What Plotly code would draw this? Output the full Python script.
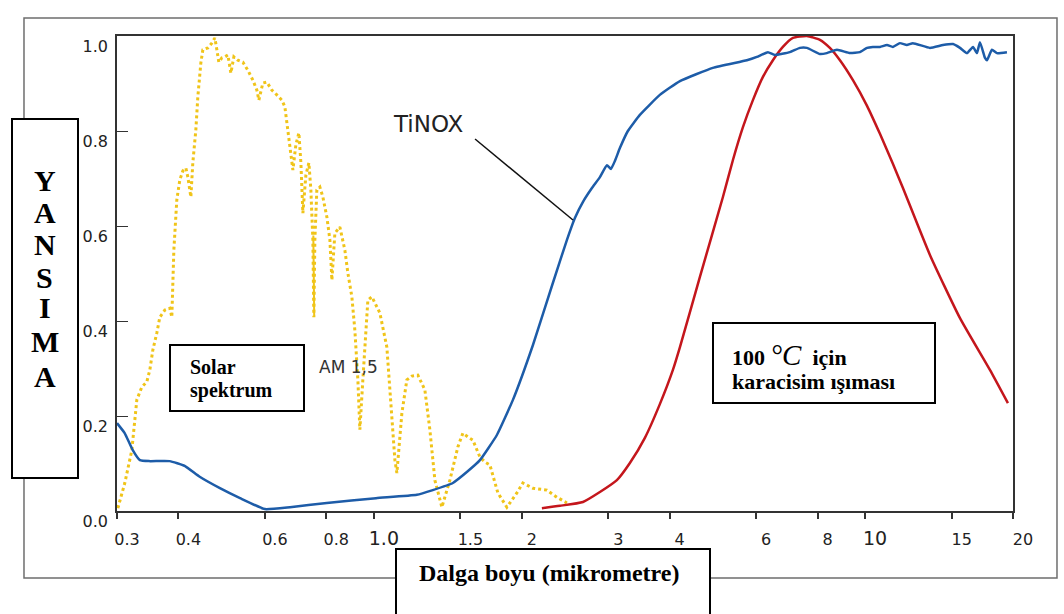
import math
import plotly.graph_objects as go

# ---------------- data ----------------
tick_vals = [0.3, 0.4, 0.6, 0.8, 1.0, 1.5, 2, 3, 4, 6, 8, 10, 15, 20]
tick_text = ["0.3", "0.4", "0.6", "0.8", '<span style="font-size:19px">1.0</span>', "1.5", "2",
             "3", "4", "6", "8", '<span style="font-size:19px">10</span>', "15", "20"]
y_tick_vals = [0.0, 0.2, 0.4, 0.6, 0.8, 1.0]
y_tick_text = ["0.0", "0.2", "0.4", "0.6", "0.8", "1.0"]

# TiNOX reflectance
tinox_x = [0.300, 0.311, 0.323, 0.334, 0.350, 0.384, 0.412, 0.442, 0.486, 0.534, 0.600, 0.675,
           0.802, 1.01, 1.223, 1.318, 1.448, 1.546, 1.644, 1.780, 1.919, 2.107, 2.314, 2.472,
           2.566, 2.665, 2.779, 2.885, 2.981, 3.038, 3.095, 3.168, 3.289, 3.479, 3.821, 4.198,
           4.898, 5.745, 6.021, 6.340, 6.553, 7.029, 7.366, 7.611, 8.091, 8.360, 8.761, 9.313,
           9.759, 10.09, 10.37, 10.72, 11.08, 11.39, 11.77, 12.16, 12.51, 13.55, 14.40, 15.10,
           15.60, 16.12, 16.58, 16.89, 17.13, 17.54, 17.70, 18.12, 18.55, 19.44]
tinox_y = [0.185, 0.164, 0.128, 0.107, 0.105, 0.105, 0.095, 0.072, 0.048, 0.027, 0.004, 0.008,
           0.017, 0.027, 0.034, 0.044, 0.059, 0.082, 0.107, 0.160, 0.234, 0.349, 0.480, 0.571,
           0.617, 0.651, 0.680, 0.703, 0.728, 0.720, 0.737, 0.764, 0.800, 0.834, 0.876, 0.905,
           0.933, 0.949, 0.956, 0.966, 0.960, 0.966, 0.975, 0.975, 0.962, 0.964, 0.971, 0.964,
           0.966, 0.975, 0.977, 0.977, 0.981, 0.977, 0.985, 0.981, 0.985, 0.975, 0.981, 0.983,
           0.975, 0.964, 0.977, 0.964, 0.987, 0.954, 0.949, 0.971, 0.964, 0.966]

# Black body radiation at 100 °C (normalised)
bb_x = [2.198, 2.392, 2.665, 2.885, 3.124, 3.320, 3.562, 3.821, 4.062, 4.198, 4.610, 5.135,
        5.382, 5.640, 5.910, 6.194, 6.491, 6.801, 7.129, 7.611, 8.091, 8.478, 8.887, 9.445,
        10.09, 10.72, 11.39, 11.94, 13.55, 15.60, 17.95, 19.53]
bb_y = [0.006, 0.011, 0.019, 0.040, 0.065, 0.101, 0.154, 0.225, 0.297, 0.345, 0.493, 0.661,
        0.739, 0.808, 0.865, 0.914, 0.949, 0.977, 0.996, 1.000, 0.992, 0.975, 0.949, 0.907,
        0.853, 0.794, 0.731, 0.680, 0.539, 0.406, 0.297, 0.227]

# Solar spectrum AM 1.5 (normalised)
solar_x = [0.3012, 0.3112, 0.3216, 0.3292, 0.3370, 0.3450, 0.3499, 0.3549, 0.3616, 0.3667,
           0.3754, 0.3843, 0.3879, 0.3916, 0.3971, 0.4027, 0.4085, 0.4143, 0.4182, 0.4241,
           0.4280, 0.4341, 0.4382, 0.4444, 0.4486, 0.4593, 0.4679, 0.4746, 0.4791, 0.4835,
           0.4904, 0.4974, 0.5045, 0.5116, 0.5188, 0.5286, 0.5412, 0.5540, 0.5672, 0.5779,
           0.5833, 0.5943, 0.6055, 0.6199, 0.6346, 0.6497, 0.6589, 0.6683, 0.6745, 0.6841,
           0.6938, 0.7037, 0.7103, 0.7170, 0.7271, 0.7374, 0.7443, 0.7513, 0.7548, 0.7584,
           0.7655, 0.7764, 0.7874, 0.8023, 0.8137, 0.8214, 0.8330, 0.8527, 0.8730, 0.8853,
           0.9020, 0.9147, 0.9278, 0.9365, 0.9497, 0.9587, 0.9723, 0.9906, 1.0285, 1.0628,
           1.0880, 1.1036, 1.1139, 1.1296, 1.1403, 1.1672, 1.1950, 1.2291, 1.2700, 1.3002,
           1.3311, 1.3754, 1.4281, 1.4826, 1.5177, 1.5538, 1.5906, 1.6435, 1.6827, 1.7225,
           1.7883, 1.8653, 1.9096, 1.9549, 2.0107, 2.1074, 2.2502, 2.3584, 2.4717]
solar_y = [0.006, 0.059, 0.128, 0.234, 0.261, 0.272, 0.297, 0.339, 0.375, 0.408,
           0.423, 0.427, 0.408, 0.549, 0.655, 0.697, 0.716, 0.722, 0.703, 0.661,
           0.733, 0.802, 0.872, 0.943, 0.971, 0.975, 0.985, 0.996, 0.971, 0.945,
           0.954, 0.956, 0.960, 0.922, 0.956, 0.949, 0.945, 0.928, 0.907, 0.886,
           0.865, 0.901, 0.903, 0.886, 0.876, 0.865, 0.851, 0.802, 0.766, 0.718,
           0.771, 0.796, 0.733, 0.627, 0.707, 0.733, 0.676, 0.571, 0.408, 0.571,
           0.676, 0.682, 0.661, 0.619, 0.571, 0.486, 0.585, 0.598, 0.549, 0.501,
           0.451, 0.381, 0.276, 0.171, 0.276, 0.345, 0.444, 0.451, 0.417, 0.345,
           0.206, 0.107, 0.080, 0.149, 0.206, 0.276, 0.284, 0.286, 0.255, 0.171,
           0.065, 0.008, 0.065, 0.135, 0.164, 0.156, 0.149, 0.114, 0.103, 0.097,
           0.038, 0.008, 0.023, 0.038, 0.059, 0.048, 0.044, 0.029, 0.017]
# narrow O2 absorption line drawn solid in the original
o2_x = [0.7530, 0.7560]
o2_y = [0.580, 0.410]

# ---------------- figure ----------------
BLUE = "#1d5ca8"
RED = "#c4161c"
YELLOW = "#f0c419"
TICKFONT = dict(family="DejaVu Sans", size=16, color="#222222")
SERIF = "Liberation Serif"

fig = go.Figure()
fig.add_trace(go.Scatter(x=solar_x, y=solar_y, mode="lines",
                         line=dict(color=YELLOW, width=3, dash="3px,3px"), hoverinfo="skip"))
fig.add_trace(go.Scatter(x=o2_x, y=o2_y, mode="lines",
                         line=dict(color=YELLOW, width=2), hoverinfo="skip"))
fig.add_trace(go.Scatter(x=bb_x, y=bb_y, mode="lines",
                         line=dict(color=RED, width=2.5, shape="spline", smoothing=0.5), hoverinfo="skip"))
fig.add_trace(go.Scatter(x=tinox_x, y=tinox_y, mode="lines",
                         line=dict(color=BLUE, width=2.5, shape="spline", smoothing=0.4), hoverinfo="skip"))

xr = [math.log10(0.3), math.log10(20)]
fig.update_layout(
    width=1064, height=614,
    margin=dict(l=117, r=51, t=36, b=103),
    paper_bgcolor="white", plot_bgcolor="white",
    showlegend=False,
    xaxis=dict(type="log", range=xr, tickvals=tick_vals, ticktext=tick_text,
               ticks="outside", ticklen=6, tickwidth=1.5, tickcolor="#333333",
               showline=True, mirror=True, linecolor="#333333", linewidth=1.5,
               showgrid=False, zeroline=False, tickfont=TICKFONT,
               ticklabelshift=10, ticklabelstandoff=7),
    xaxis2=dict(type="log", range=xr, overlaying="x", anchor="y", side="bottom",
                tickvals=tick_vals[1:-1], ticks="inside", ticklen=5, tickwidth=1.5,
                tickcolor="#333333", showticklabels=False, showline=False,
                showgrid=False, zeroline=False),
    yaxis=dict(range=[0, 1], tickvals=y_tick_vals, ticktext=y_tick_text,
               ticks="inside", ticklen=11, tickwidth=1.2, tickcolor="#333333",
               showline=True, mirror=True, linecolor="#333333", linewidth=1.5,
               showgrid=False, zeroline=False, tickfont=TICKFONT,
               ticklabelshift=10, ticklabelstandoff=4),
)

# outer frame and TiNOX leader line (paper coordinates)
fig.add_shape(type="rect", xref="paper", yref="paper", x0=-0.1038, x1=1.0491, y0=-0.1411, y1=1.0379,
              line=dict(color="#6e6e6e", width=1.5), layer="below")
fig.add_shape(type="line", xref="paper", yref="paper", x0=0.3996, y0=0.7832, x1=0.5089, y1=0.6126,
              line=dict(color="#111111", width=1.5))

ann = []
ann.append(dict(xref="paper", yref="paper", x=0.2935, y=0.3032, xanchor="right", yanchor="middle",
                text="AM 1,5", showarrow=False,
                font=dict(family="DejaVu Sans", size=17, color="#333333")))
ann.append(dict(xref="paper", yref="paper", x=0.3471, y=0.8147, xanchor="center", yanchor="middle",
                text="TiNOX", showarrow=False,
                font=dict(family="DejaVu Sans", size=23, color="#222222")))


def box(cx, cy, w, h):
    return dict(xref="paper", yref="paper", x=cx, y=cy, xanchor="center", yanchor="middle",
                text=" ", showarrow=False, width=w, height=h, bgcolor="white",
                bordercolor="black", borderwidth=2, borderpad=0)


ann.append(box(-0.0804, 0.4474, 64, 357))      # YANSIMA
ann.append(box(0.1339, 0.2800, 132, 64))       # Solar spektrum
ann.append(box(0.7891, 0.3116, 220, 78))       # 100 C
ann.append(box(0.4866, -0.1747, 312, 88))      # Dalga boyu

for letter, yy in zip("YANSIMA", [0.6968, 0.6274, 0.5600, 0.4926, 0.4274, 0.3558, 0.2842]):
    ann.append(dict(xref="paper", yref="paper", x=-0.0804, y=yy, xanchor="center", yanchor="middle",
                    text="<b>%s</b>" % letter, showarrow=False,
                    font=dict(family=SERIF, size=30, color="black")))

ann.append(dict(xref="paper", yref="paper", x=0.0792, y=0.3032, xanchor="left", yanchor="middle",
                text="<b>Solar</b>", showarrow=False, font=dict(family=SERIF, size=20, color="black")))
ann.append(dict(xref="paper", yref="paper", x=0.0792, y=0.2547, xanchor="left", yanchor="middle",
                text="<b>spektrum</b>", showarrow=False, font=dict(family=SERIF, size=20, color="black")))

ann.append(dict(xref="paper", yref="paper", x=0.6842, y=0.3284, xanchor="left", yanchor="middle",
                text='<b>100 </b><span style="font-size:29px"><i>°C</i></span><b>  için</b>',
                showarrow=False, font=dict(family=SERIF, size=22, color="black")))
ann.append(dict(xref="paper", yref="paper", x=0.6842, y=0.2716, xanchor="left", yanchor="middle",
                text="<b>karacisim ışıması</b>", showarrow=False,
                font=dict(family=SERIF, size=22, color="black")))

ann.append(dict(xref="paper", yref="paper", x=0.4821, y=-0.1305, xanchor="center", yanchor="middle",
                text="<b>Dalga boyu (mikrometre)</b>", showarrow=False,
                font=dict(family=SERIF, size=24, color="black")))

fig.update_layout(annotations=ann)
fig.write_html("out.html")
